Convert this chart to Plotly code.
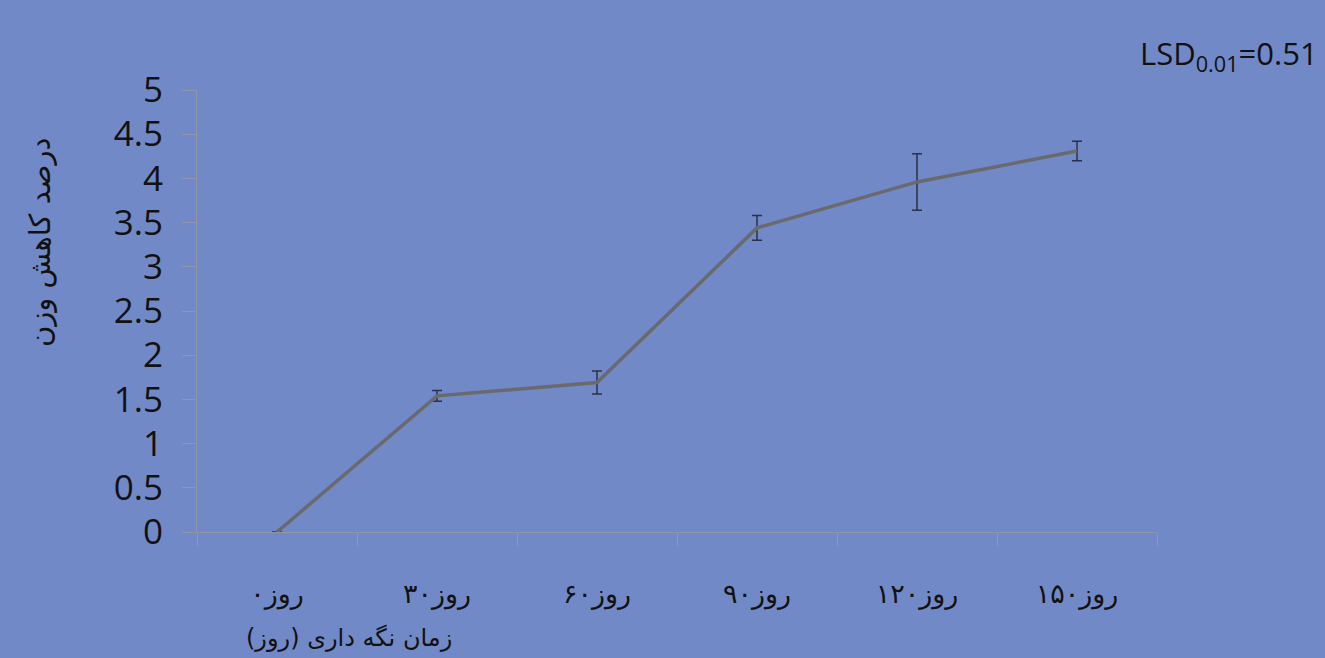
import plotly.graph_objects as go

categories = ["روز۰", "روز۳۰", "روز۶۰", "روز۹۰", "روز۱۲۰", "روز۱۵۰"]
values = [0.0, 1.54, 1.69, 3.44, 3.96, 4.31]
errors = [0.0, 0.06, 0.13, 0.14, 0.32, 0.11]
y_ticks = [0, 0.5, 1, 1.5, 2, 2.5, 3, 3.5, 4, 4.5, 5]
y_labels = ["0", "0.5", "1", "1.5", "2", "2.5", "3", "3.5", "4", "4.5", "5"]

BG = "#7189C7"
AX = "#8E96A8"

xs = list(range(len(categories)))

fig = go.Figure()
fig.add_trace(go.Scatter(
    x=xs, y=values, mode="lines",
    line=dict(color="#6A6A6E", width=3.5),
    error_y=dict(type="data", array=errors, visible=True,
                 color="#2B3148", thickness=1.5, width=5),
    showlegend=False, hoverinfo="skip",
))

fig.update_layout(
    width=1325, height=658,
    margin=dict(l=197, r=168, t=90, b=126),
    paper_bgcolor=BG, plot_bgcolor=BG,
    font=dict(family="Liberation Sans, DejaVu Sans, sans-serif", color="#000000"),
    xaxis=dict(
        range=[-0.5, len(categories) - 0.5],
        tickvals=xs, ticktext=categories, ticks="",
        tickfont=dict(size=27, family="DejaVu Sans, sans-serif", color="#111111"),
        showgrid=False, zeroline=False,
        showline=True, linecolor=AX, linewidth=1,
        minor=dict(tickvals=[i - 0.5 for i in range(len(categories) + 1)],
                   ticks="outside", ticklen=13, tickcolor=AX, tickwidth=1),
        ticklabelstandoff=38,
    ),
    yaxis=dict(
        range=[0, 5],
        tickvals=y_ticks, ticktext=y_labels,
        ticks="outside", ticklen=14, tickcolor=AX, tickwidth=1,
        tickfont=dict(size=35, family="Open Sans, Liberation Sans, sans-serif", color="#111111"),
        showgrid=False, zeroline=False,
        showline=True, linecolor=AX, linewidth=1,
        ticklabelstandoff=12,
    ),
)

fig.add_annotation(
    text="درصد کاهش وزن", textangle=-90,
    xref="paper", yref="paper", x=-0.163, y=0.655,
    xanchor="center", yanchor="middle", showarrow=False,
    font=dict(size=29, family="DejaVu Sans, sans-serif", color="#111111"),
)
fig.add_annotation(
    text="زمان نگه داری (روز)",
    xref="paper", yref="paper", x=0.158, y=-0.24,
    xanchor="center", yanchor="middle", showarrow=False,
    font=dict(size=24, family="DejaVu Sans, sans-serif", color="#111111"),
)
fig.add_annotation(
    text="LSD<sub>0.01</sub>=0.51",
    xref="paper", yref="paper", x=1.17, y=1.08,
    xanchor="right", yanchor="middle", showarrow=False,
    font=dict(size=31, family="Open Sans, Liberation Sans, sans-serif", color="#111111"),
)

fig.write_html("out.html")
